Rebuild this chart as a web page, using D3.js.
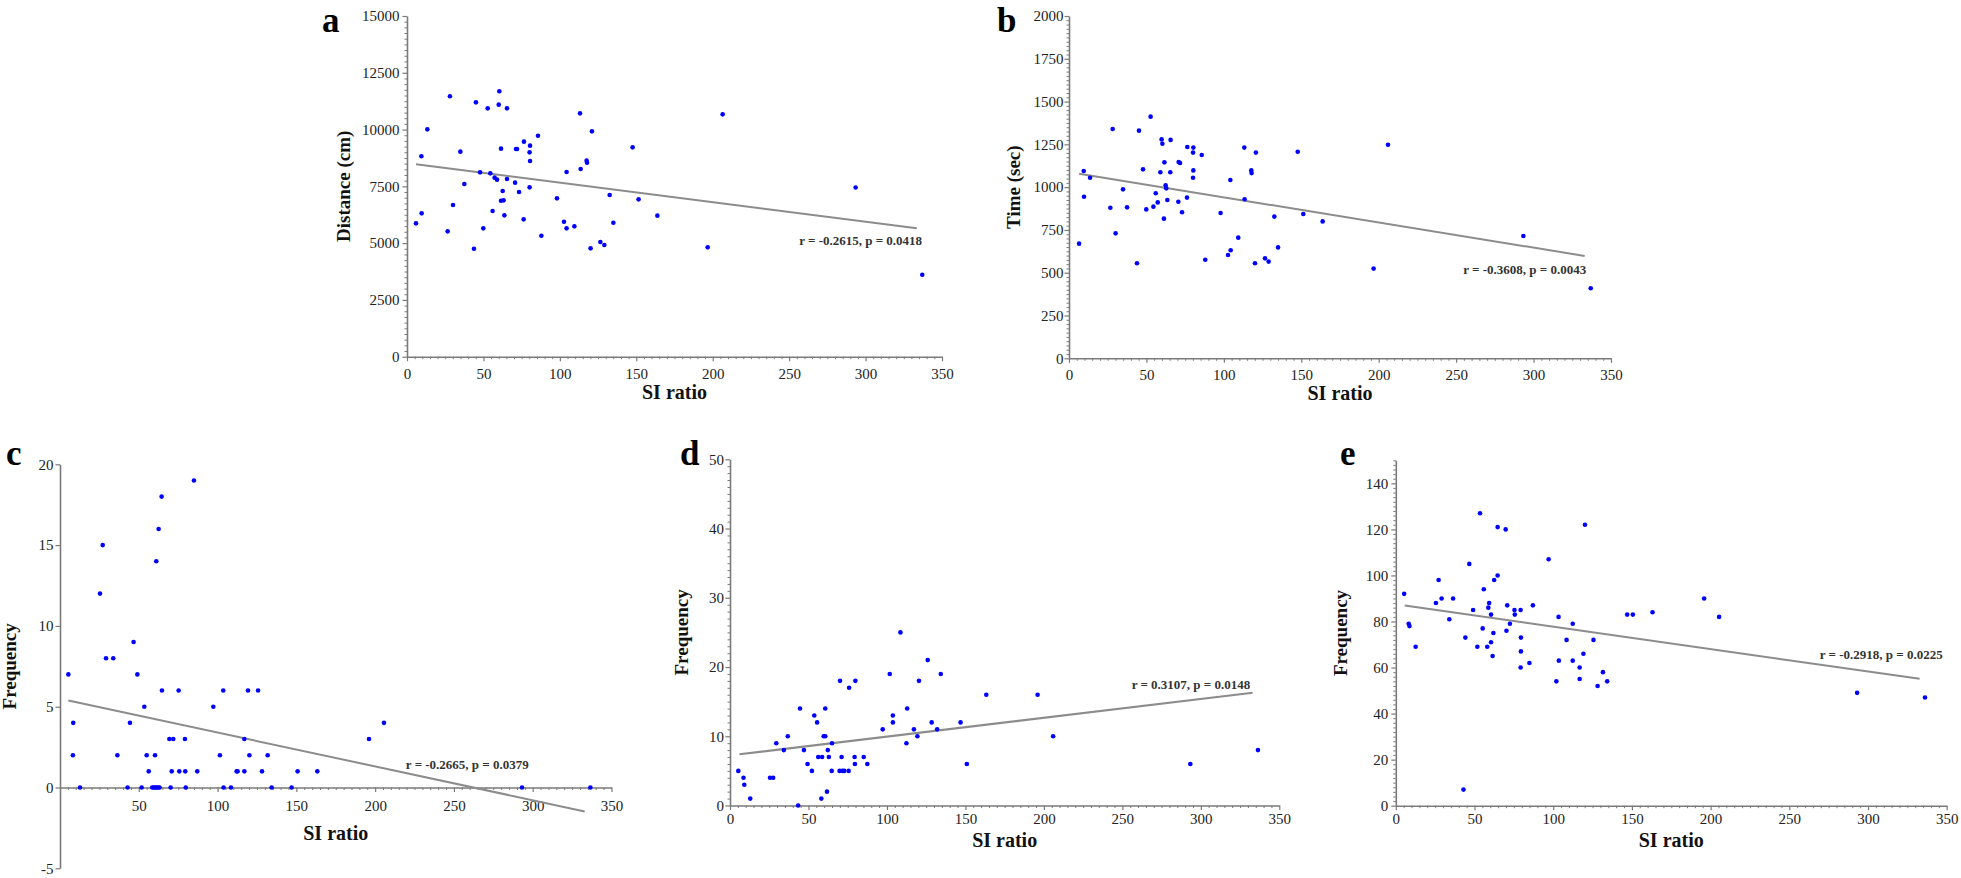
<!DOCTYPE html>
<html><head><meta charset="utf-8">
<script src="https://cdn.jsdelivr.net/npm/d3@7"></script>
<style>body{margin:0;background:#fff} svg{display:block}</style>
</head><body>
<svg id="chart" width="1961" height="878"></svg>
<script>
// ---------- DATA ----------
const xTicks = [0, 50, 100, 150, 200, 250, 300, 350];

// a: Distance (cm)
const siA = [5.9,9.4,9.6,13.3,26.6,28.1,30.1,34.9,37.5,43.8,45.1,47.8,49.9,52.8,54.5,56,57.3,58.9,60,60.4,61.5,61.5,63.2,62.6,63.7,65.4,65.4,70.7,71.3,72,73.3,76.3,76.5,80.2,80.5,80.5,80.2,85.7,87.9,98.1,102.7,104.4,104.4,109.5,113.2,113.6,117.5,117.8,120.1,121,126.5,129.1,132.6,135,147.6,151.5,163.8,196.7,206.5,293.5,337.1];
const distA = [5871,8822,6312,10010,5519,11464,6678,9027,7603,4756,11199,8117,5651,10935,8073,6414,7882,7794,11097,11684,9159,6869,6884,7295,6223,10935,7823,7662,9144,9144,7251,6047,9467,8997,9291,8616,7456,9731,5328,6972,5944,5651,8131,5739,10715,8264,8631,8543,4770,9922,5049,4917,7119,5900,9218,6928,6209,4814,10671,7450,3611];
const yTicksA = [0, 2500, 5000, 7500, 10000, 12500, 15000];
const fitA = [[5.9, 8472], [333.5, 5654]];

// b: Time (sec)
const siB = [6.5,9.5,9.7,13.6,26.7,28.2,30.1,34.9,37.5,43.9,45.2,47.8,49.9,52.7,54.5,56,57.3,59,59.8,60.3,61.3,61.6,62.4,62.8,63.5,65.4,65.6,70.6,70.8,71.7,73,76.2,76.4,80.1,80.3,80.3,80.1,85.7,88,97.9,102.7,104.4,104.2,109.3,113.2,113.4,117.7,117.9,120.1,120.7,126.6,128.9,132.6,135,147.7,151.3,163.8,196.7,206,293.4,336.9];
const timeB = [670,1094,944,1055,880,1340,730,987,882,555,1330,1104,870,1412,886,964,911,1087,1279,1254,816,1145,1011,993,925,1087,1276,915,1147,1141,853,939,1235,1202,1231,1098,1055,1188,576,849,604,631,1042,705,1231,929,1098,1082,555,1202,584,565,828,648,1207,843,800,524,1248,715,409];
const yTicksB = [0, 250, 500, 750, 1000, 1250, 1500, 1750, 2000];
const fitB = [[6.5, 1078], [333, 598]];

// c: Frequency
const siC = [5.3,8.4,8.2,12.7,25.4,27.1,29.2,33.8,36.4,42.9,44.4,46.7,49.1,51.8,53.5,55,56.3,58.5,59.5,60.3,60.6,61.3,62.3,63.2,61.1,62.6,64.5,64.7,69.4,70.2,70.9,71.9,75.3,75.7,79.3,79.5,79.8,85,87.1,97.3,101.5,103.6,103.8,108.5,112.1,112.7,117,117,119.3,120.2,125.7,128.2,131.8,134.3,147,150.8,163.3,196.1,205.6,293.2,336.6];
const freqC = [7,4,2,0,12,15,8,8,2,0,4,9,7,0,5,2,1,0,0,2,0,0,0,0,14,16,18,6,3,0,1,3,6,1,3,1,0,19,1,5,2,6,0,0,1,1,3,1,6,2,6,1,2,0,0,1,1,3,4,0,0];
const yTicksC = [-5, 0, 5, 10, 15, 20];
const fitC = [[5.3, 5.38], [333, -1.48]];

// d: Frequency
const siD = [5.3,8.6,9.1,12.9,25.5,27.5,29.5,34.3,36.8,43.4,44.6,47.1,49.4,52.2,53.7,55.5,56.2,58.7,58.2,59.7,60.7,60.7,61.8,62.3,63,64.8,65,70.1,69.8,71.1,71.6,72.8,75.6,75.9,79.4,79.6,79.9,85.2,87.5,97.3,101.8,103.8,103.8,108.6,112.4,112.9,117.2,119.4,120.4,126,128.5,132,134.3,146.9,150.9,163.3,196,205.9,293.3,336.4];
const freqD = [5,4,3,1,4,4,9,8,10,0,14,8,6,5,13,12,7,7,1,10,10,14,2,8,7,5,9,18,5,7,5,5,5,17,7,6,18,7,6,11,19,13,12,25,9,14,11,10,18,21,12,11,19,12,6,16,16,10,6,8];
const yTicksD = [0, 10, 20, 30, 40, 50];
const fitD = [[6, 7.39], [333, 16.29]];

// e: Frequency
const siE = [5.3,8.2,8.7,12.6,25.5,27.2,29.1,34,36.4,43,44.2,46.7,49.1,51.8,53.5,55.2,55.9,58.1,58.8,59.3,60.5,60.5,61.5,62,62.5,64.7,64.7,69.8,70.3,70.8,72.5,75.4,75.6,79.3,79.5,79.5,79.3,84.9,87.1,97.1,102,103.4,103.6,108.5,112.4,112.4,116.8,116.8,119.2,120.2,125.6,128.2,131.6,134.3,147,150.6,163.1,195.9,205.4,293.1,336.2];
const freqE = [92,79,78,69,88,98,90,81,90,7,73,105,85,69,127,77,94,69,86,88,83,71,65,75,98,100,121,120,76,87,79,85,83,85,73,67,60,62,87,107,54,82,63,72,79,63,60,55,66,122,72,52,58,54,83,83,84,90,82,49,47];
const yTicksE = [0, 20, 40, 60, 80, 100, 120, 140];
const fitE = [[5.7, 86.9], [332.8, 55.1]];

// ---------- LAYOUT ----------
const panels = [
  {letter:'a', xs:siA, ys:distA, fit:fitA, yTicks:yTicksA, yDomain:[0,15000], yMinor:250,
   stat:'r = -0.2615, p = 0.0418', statAt:[337,4920], yTitle:'Distance (cm)',
   left:407, right:942, top:16, bottom:356.7, letterPos:[322,32], yTitleX:350, yPad:3, xPad:7,
   xTitleY:399, xLabels:xTicks},
  {letter:'b', xs:siB, ys:timeB, fit:fitB, yTicks:yTicksB, yDomain:[0,2000], yMinor:25,
   stat:'r = -0.3608, p = 0.0043', statAt:[334,492], yTitle:'Time (sec)',
   left:1069, right:1611, top:16, bottom:358.3, letterPos:[997,32], yTitleX:1020, yPad:1, xPad:7,
   xTitleY:400, xLabels:xTicks},
  {letter:'c', xs:siC, ys:freqC, fit:fitC, yTicks:yTicksC, yDomain:[-5,20], yMinor:null,
   stat:'r = -0.2665, p = 0.0379', statAt:[297.5,1.16], yTitle:'Frequency',
   left:60, right:611.5, top:464.3, bottom:868.3, letterPos:[6,465], yTitleX:16, yPad:2, xPad:8,
   xTitleY:840, xLabels:xTicks.slice(1)},
  {letter:'d', xs:siD, ys:freqD, fit:fitD, yTicks:yTicksD, yDomain:[0,50], yMinor:1,
   stat:'r = 0.3107, p = 0.0148', statAt:[331.5,16.83], yTitle:'Frequency',
   left:730, right:1279.3, top:459.3, bottom:805.5, letterPos:[680,465], yTitleX:688, yPad:1.5, xPad:3,
   xTitleY:847, xLabels:xTicks},
  {letter:'e', xs:siE, ys:freqE, fit:fitE, yTicks:yTicksE, yDomain:[0,150], yMinor:2,
   stat:'r = -0.2918, p = 0.0225', statAt:[347.5,63.8], yTitle:'Frequency',
   left:1395.8, right:1946.7, top:460.3, bottom:805.7, letterPos:[1340,465], yTitleX:1347, yPad:3, xPad:3,
   xTitleY:847, xLabels:xTicks}
];

const FONT = '"Liberation Serif", "Times New Roman", serif';
const AXC = '#7a7a7a';
const svg = d3.select('#chart').style('font-family', FONT);

panels.forEach(p => {
  const x = d3.scaleLinear().domain([0, 350]).range([p.left, p.right]);
  const y = d3.scaleLinear().domain(p.yDomain).range([p.bottom, p.top]);
  const g = svg.append('g');
  const xAxisY = y(Math.max(0, p.yDomain[0]));

  // minor x ticks
  const xMinor = d3.range(0, 351, 5).filter(v => v % 50 !== 0);
  g.append('g').attr('transform', `translate(0,${xAxisY})`)
    .call(d3.axisBottom(x).tickValues(xMinor).tickSize(2.5).tickFormat(''))
    .call(s => s.select('.domain').remove())
    .call(s => s.selectAll('line').attr('stroke', AXC).attr('stroke-width', 1));
  // major x
  const gx = g.append('g').attr('transform', `translate(0,${xAxisY})`)
    .call(d3.axisBottom(x).tickValues(p.xLabels).tickSize(4.5).tickPadding(p.xPad).tickSizeOuter(0)
      .tickFormat(d => String(d)));
  gx.select('.domain').attr('stroke', AXC).attr('stroke-width', 1.6);
  gx.selectAll('line').attr('stroke', AXC).attr('stroke-width', 1.2);
  gx.selectAll('text').attr('font-family', FONT).attr('font-size', 15).attr('fill', '#222');

  // minor y
  if (p.yMinor) {
    const ym = d3.range(p.yDomain[0], p.yDomain[1] + p.yMinor / 2, p.yMinor)
      .filter(v => !p.yTicks.some(t => Math.abs(t - v) < 1e-6));
    g.append('g').attr('transform', `translate(${p.left},0)`)
      .call(d3.axisLeft(y).tickValues(ym).tickSize(2.5).tickFormat(''))
      .call(s => s.select('.domain').remove())
      .call(s => s.selectAll('line').attr('stroke', AXC).attr('stroke-width', 1));
  }
  const gy = g.append('g').attr('transform', `translate(${p.left},0)`)
    .call(d3.axisLeft(y).tickValues(p.yTicks).tickSize(4.5).tickPadding(p.yPad).tickSizeOuter(0)
      .tickFormat(d => String(d)));
  gy.select('.domain').attr('stroke', AXC).attr('stroke-width', 1.6);
  gy.selectAll('line').attr('stroke', AXC).attr('stroke-width', 1.2);
  gy.selectAll('text').attr('font-family', FONT).attr('font-size', 15).attr('fill', '#222');

  // regression line
  g.append('path')
    .attr('d', d3.line().x(d => x(d[0])).y(d => y(d[1]))(p.fit))
    .attr('fill', 'none').attr('stroke', '#8c8c8c').attr('stroke-width', 2);

  // points
  g.append('g').selectAll('circle')
    .data(p.xs.map((v, i) => [v, p.ys[i]]))
    .join('circle')
    .attr('cx', d => x(d[0])).attr('cy', d => y(d[1])).attr('r', 2.3)
    .attr('fill', '#0000ff');

  // stat annotation
  g.append('text')
    .attr('x', x(p.statAt[0])).attr('y', y(p.statAt[1]))
    .attr('text-anchor', 'end').attr('font-size', 13).attr('font-weight', 'bold')
    .attr('fill', '#333').text(p.stat);

  // titles
  g.append('text')
    .attr('x', (p.left + p.right) / 2).attr('y', p.xTitleY)
    .attr('text-anchor', 'middle').attr('font-size', 20).attr('font-weight', 'bold')
    .attr('fill', '#111').text('SI ratio');
  g.append('text')
    .attr('transform', `translate(${p.yTitleX},${(p.top + p.bottom) / 2}) rotate(-90)`)
    .attr('text-anchor', 'middle').attr('font-size', 19).attr('font-weight', 'bold')
    .attr('fill', '#111').text(p.yTitle);

  // panel letter
  g.append('text')
    .attr('x', p.letterPos[0]).attr('y', p.letterPos[1])
    .attr('font-size', 35).attr('font-weight', 'bold').attr('fill', '#000')
    .text(p.letter);
});
</script>
</body></html>
